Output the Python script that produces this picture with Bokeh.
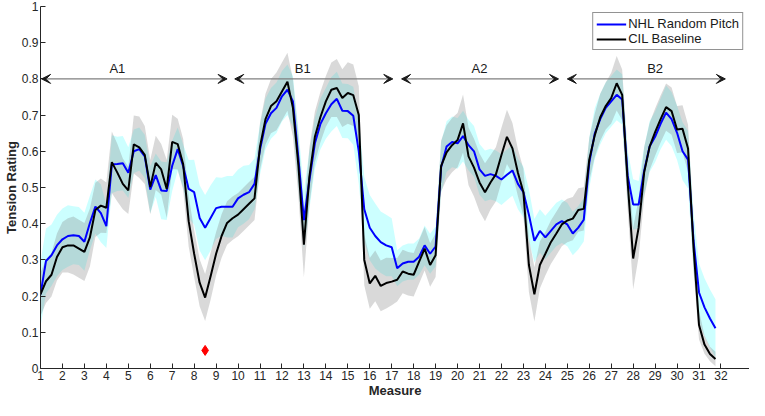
import numpy as np
from bokeh.plotting import figure
from bokeh.models import Arrow, VeeHead, Legend, LegendItem, FixedTicker
from bokeh.core.properties import value
from bokeh.embed import file_html
from bokeh.resources import INLINE

# ---- data (4 beats per measure, measures 1..31.75) ----
beats = np.arange(1.0, 32.0, 0.25)

nhl = [0.205, 0.297, 0.313, 0.340, 0.357, 0.366, 0.368, 0.366,
       0.350, 0.402, 0.447, 0.429, 0.393, 0.564, 0.565, 0.567,
       0.541, 0.600, 0.606, 0.586, 0.494, 0.534, 0.492, 0.490,
       0.560, 0.606, 0.559, 0.496, 0.487, 0.416, 0.389, 0.416,
       0.443, 0.447, 0.447, 0.447, 0.470, 0.480, 0.487, 0.510,
       0.605, 0.676, 0.705, 0.720, 0.752, 0.770, 0.738, 0.580,
       0.410, 0.520, 0.622, 0.675, 0.705, 0.730, 0.745, 0.712,
       0.711, 0.698, 0.600, 0.440, 0.389, 0.366, 0.349, 0.340,
       0.335, 0.277, 0.290, 0.295, 0.295, 0.309, 0.340, 0.317,
       0.337, 0.555, 0.613, 0.626, 0.622, 0.642, 0.617, 0.600,
       0.550, 0.532, 0.537, 0.532, 0.522, 0.535, 0.547, 0.510,
       0.487, 0.425, 0.353, 0.380, 0.362, 0.380, 0.398, 0.407,
       0.398, 0.373, 0.389, 0.411, 0.568, 0.649, 0.689, 0.720,
       0.738, 0.756, 0.743, 0.532, 0.453, 0.453, 0.546, 0.613,
       0.640, 0.676, 0.707, 0.689, 0.651, 0.600, 0.577, 0.353,
       0.210, 0.169, 0.138, 0.111]

cil = [0.205, 0.241, 0.259, 0.308, 0.335, 0.340, 0.340, 0.331,
       0.322, 0.362, 0.438, 0.450, 0.444, 0.570, 0.541, 0.510,
       0.492, 0.619, 0.611, 0.590, 0.501, 0.568, 0.550, 0.496,
       0.626, 0.620, 0.564, 0.407, 0.317, 0.237, 0.196, 0.255,
       0.317, 0.366, 0.402, 0.415, 0.425, 0.440, 0.455, 0.470,
       0.613, 0.689, 0.725, 0.738, 0.765, 0.792, 0.720, 0.560,
       0.342, 0.530, 0.640, 0.694, 0.738, 0.770, 0.775, 0.747,
       0.761, 0.755, 0.700, 0.300, 0.235, 0.256, 0.228, 0.236,
       0.240, 0.245, 0.268, 0.262, 0.259, 0.295, 0.331, 0.286,
       0.313, 0.559, 0.597, 0.617, 0.631, 0.677, 0.586, 0.555,
       0.514, 0.487, 0.514, 0.537, 0.590, 0.640, 0.608, 0.541,
       0.487, 0.286, 0.205, 0.286, 0.317, 0.349, 0.373, 0.398,
       0.409, 0.414, 0.438, 0.441, 0.577, 0.644, 0.694, 0.725,
       0.747, 0.788, 0.756, 0.514, 0.304, 0.389, 0.541, 0.613,
       0.653, 0.689, 0.722, 0.711, 0.660, 0.662, 0.608, 0.335,
       0.120, 0.066, 0.040, 0.026]

nhl_spread = [.09, .09, .085, .085, .085, .085, .08, .08,
              .08, .075, .075, .08, .06, .08, .075, .075,
              .07, .06, .06, .06, .065, .06, .08, .08,
              .07, .06, .06, .08, .09, .09, .09, .09,
              .085, .08, .085, .085, .08, .08, .075, .07,
              .07, .07, .07, .07, .07, .07, .07, .08,
              .08, .08, .07, .07, .07, .075, .075, .075,
              .075, .08, .09, .09, .09, .09, .085, .085,
              .08, .05, .05, .05, .05, .05, .055, .055,
              .055, .07, .07, .07, .07, .07, .07, .07,
              .07, .07, .07, .07, .07, .07, .07, .07,
              .07, .07, .06, .06, .06, .06, .06, .06,
              .06, .06, .06, .06, .07, .07, .07, .07,
              .07, .07, .07, .07, .07, .065, .065, .07,
              .07, .07, .075, .075, .075, .08, .08, .08,
              .08, .08, .08, .08]

cil_spread = [.06, .06, .06, .065, .07, .075, .08, .08,
              .08, .08, .075, .075, .07, .085, .08, .07,
              .065, .08, .085, .08, .075, .075, .07, .08,
              .075, .07, .07, .07, .065, .065, .065, .065,
              .06, .06, .06, .06, .06, .06, .06, .06,
              .065, .07, .075, .08, .08, .08, .08, .085,
              .09, .08, .07, .07, .07, .075, .08, .08,
              .085, .085, .08, .07, .07, .07, .07, .07,
              .065, .06, .06, .06, .06, .06, .06, .06,
              .06, .07, .075, .075, .075, .08, .08, .08,
              .08, .08, .075, .075, .075, .075, .07, .065,
              .065, .075, .075, .065, .06, .06, .06, .06,
              .06, .06, .06, .06, .06, .06, .065, .065,
              .07, .075, .07, .075, .085, .08, .07, .065,
              .065, .065, .065, .065, .065, .065, .065, .065,
              .04, .025, .02, .02]

sections = ["A1", "B1", "A2", "B2"]
section_start = [1.05, 9.85, 17.45, 25.0]
section_end = [9.5, 17.05, 24.6, 32.2]
section_label_x = [4.5, 12.95, 21.0, 29.0]
section_level = 0.8

marker_x = [8.5]
marker_y = [0.05]

x_ticks = list(range(1, 33))
y_ticks = [0, 0.1, 0.2, 0.3, 0.4, 0.5, 0.6, 0.7, 0.8, 0.9, 1.0]
y_tick_labels = ["0", "0.1", "0.2", "0.3", "0.4", "0.5", "0.6", "0.7", "0.8", "0.9", "1"]

# ---- figure ----
FONT = "Liberation Sans"
p = figure(width=749, height=400, output_backend="svg", toolbar_location=None,
           x_range=(1, 33.3), y_range=(0, 1.0),
           min_border_left=5, min_border_right=0, min_border_top=6, min_border_bottom=5)
p.outline_line_color = None
p.xgrid.visible = False
p.ygrid.visible = False

nhl_arr = np.array(nhl)
cil_arr = np.array(cil)
nhl_sp = np.array(nhl_spread)
cil_sp = np.array(cil_spread)

p.varea(x=beats, y1=nhl_arr - nhl_sp, y2=nhl_arr + nhl_sp, fill_color="#00ffff", fill_alpha=0.2)
p.varea(x=beats, y1=cil_arr - cil_sp, y2=cil_arr + cil_sp, fill_color="#808080", fill_alpha=0.3)

r_nhl = p.line(beats, nhl_arr, line_color="#0000ff", line_width=2)
r_cil = p.line(beats, cil_arr, line_color="#000000", line_width=2)

p.scatter(marker_x, marker_y, marker="diamond", size=10, fill_color="#ff0000", line_color="#ff0000")

for xs, xe in zip(section_start, section_end):
    p.add_layout(Arrow(x_start=xs, y_start=section_level, x_end=xe, y_end=section_level,
                       line_color="#7f7f7f", line_width=1.2,
                       start=VeeHead(size=9, fill_color="#1a1a1a", line_color="#1a1a1a", line_width=1),
                       end=VeeHead(size=9, fill_color="#1a1a1a", line_color="#1a1a1a", line_width=1)))

p.text(x=section_label_x, y=[section_level + 0.008] * len(sections), text=sections,
       text_font=value(FONT), text_font_size="13px", text_align="center",
       text_baseline="bottom", text_color="#1a1a1a")

# axes
for ax in (p.xaxis[0], p.yaxis[0]):
    ax.axis_line_color = "#262626"
    ax.major_tick_line_color = "#262626"
    ax.major_tick_in = 5
    ax.major_tick_out = 0
    ax.minor_tick_line_color = None
    ax.major_label_text_font = FONT
    ax.major_label_text_font_size = "12px"
    ax.major_label_text_color = "#262626"
    ax.axis_label_text_font = FONT
    ax.axis_label_text_font_size = "13px"
    ax.axis_label_text_font_style = "bold"
    ax.axis_label_text_color = "#262626"
    ax.major_label_standoff = 2
    ax.axis_label_standoff = 0

p.xaxis.ticker = FixedTicker(ticks=x_ticks)
p.yaxis.ticker = FixedTicker(ticks=y_ticks)
p.yaxis.major_label_overrides = {t: l for t, l in zip(y_ticks, y_tick_labels)}
p.xaxis.axis_label = "Measure"
p.yaxis.axis_label = "Tension Rating"

legend = Legend(items=[LegendItem(label="NHL Random Pitch", renderers=[r_nhl]),
                       LegendItem(label="CIL Baseline", renderers=[r_cil])],
                location="top_right")
legend.label_text_font = FONT
legend.label_text_font_size = "13px"
legend.label_text_color = "#1a1a1a"
legend.border_line_color = "#262626"
legend.border_line_width = 1
legend.background_fill_color = "white"
legend.background_fill_alpha = 1
legend.glyph_width = 30
legend.glyph_height = 14
legend.label_height = 14
legend.label_standoff = 2
legend.spacing = 0
legend.padding = 3
legend.margin = 6
legend.label_text_line_height = 1.0
p.add_layout(legend)

open("out.html", "w").write(file_html(p, INLINE))
